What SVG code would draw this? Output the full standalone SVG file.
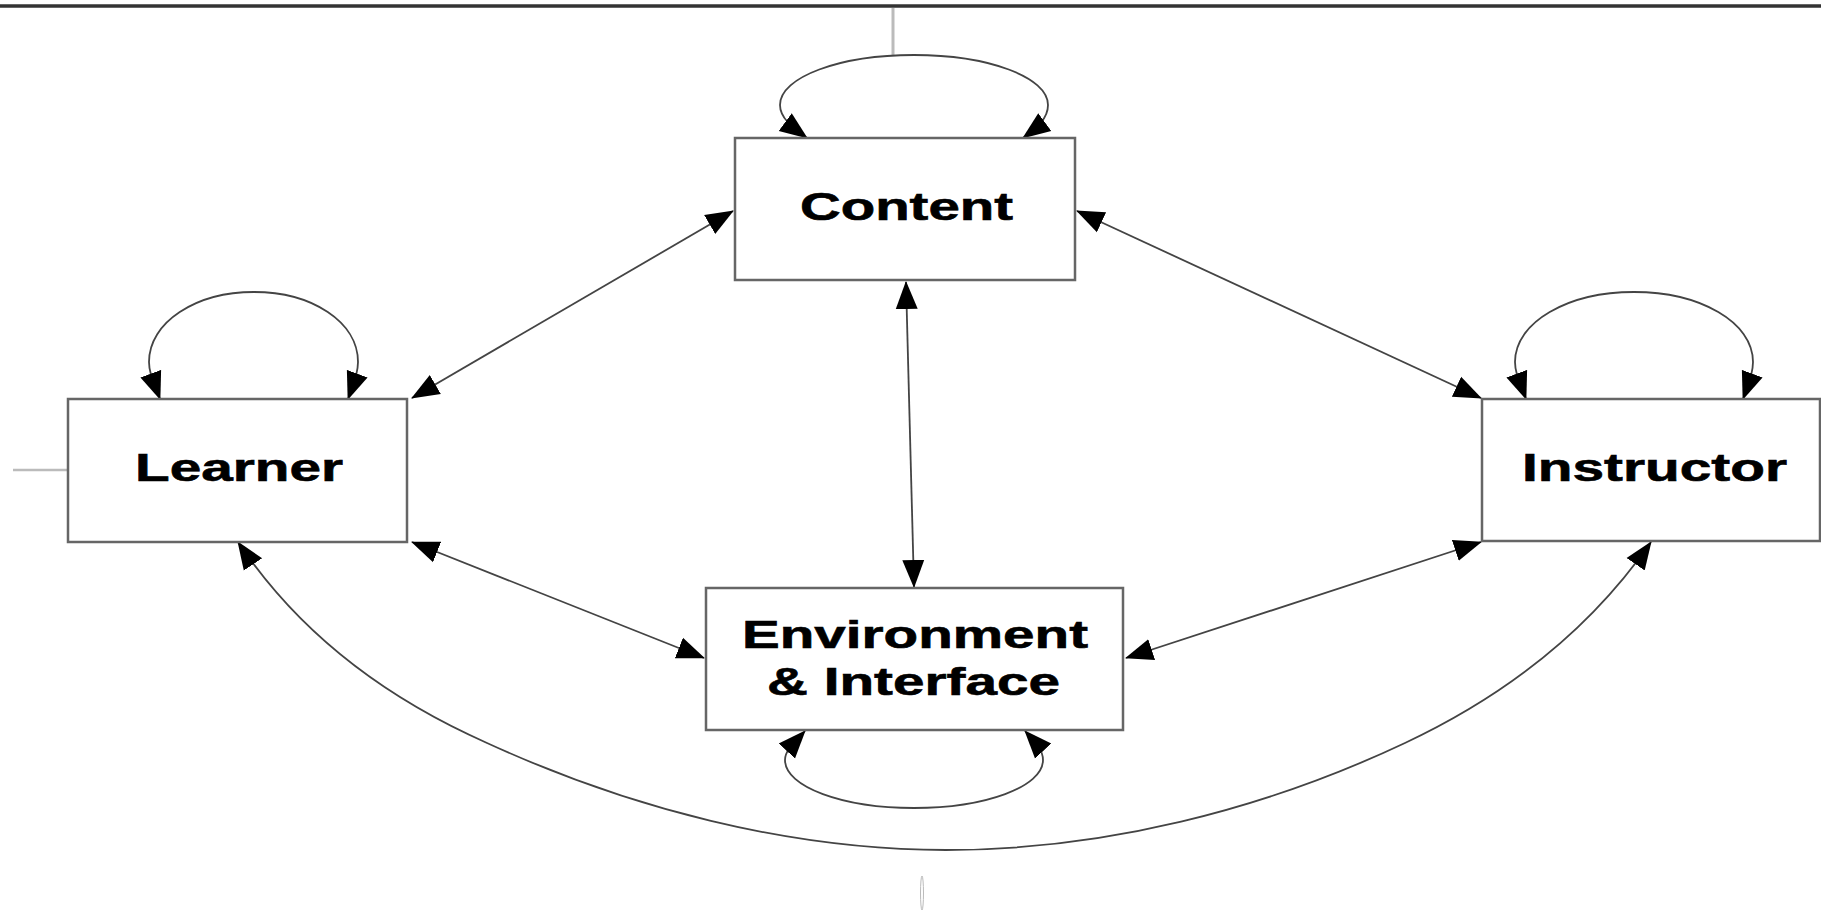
<svg xmlns="http://www.w3.org/2000/svg" width="1821" height="916" viewBox="0 0 1821 916">
<defs>
<style>
.box{fill:#fff;stroke:#666;stroke-width:2.5}
.lbl{font-family:"Liberation Sans",Arial,sans-serif;font-weight:bold;font-size:39px;fill:#000;stroke:#000;stroke-width:0.6}
.con{fill:none;stroke:#444;stroke-width:1.8;marker-start:url(#ah);marker-end:url(#ah)}
</style>
<marker id="ah" markerUnits="userSpaceOnUse" markerWidth="30" markerHeight="24" refX="27" refY="11" orient="auto-start-reverse" viewBox="0 0 30 22">
<path d="M0,0 L28,11 L0,22 Z" fill="#000"/>
</marker>
</defs>
<rect x="0" y="0" width="1821" height="916" fill="#fff"/>
<line x1="0" y1="6" x2="1821" y2="6" stroke="#333" stroke-width="3.5"/>
<line x1="893" y1="8" x2="893" y2="55" stroke="#bbb" stroke-width="3"/>
<line x1="13" y1="470" x2="68" y2="470" stroke="#bbb" stroke-width="2.5"/>
<ellipse cx="922" cy="893" rx="1.5" ry="17" fill="none" stroke="#bbb" stroke-width="1"/>
<g id="connectors">
<path class="con" d="M807,138 C792,127 780,118 780,105 C780,77 840,55 914,55 C988,55 1048,77 1048,105 C1048,118 1038,127 1023,138"/>
<path class="con" d="M160,399 C156,388 149,376 149,362 C149,322 196,292 254,292 C312,292 358,322 358,362 C358,376 352,388 348,399"/>
<path class="con" d="M1526,399 C1522,388 1515,376 1515,362 C1515,322 1568,292 1634,292 C1700,292 1753,322 1753,362 C1753,376 1747,388 1743,399"/>
<path class="con" d="M805,731 C795,742 785,750 785,760 C785,787 843,808 914,808 C985,808 1043,787 1043,760 C1043,750 1035,742 1025,731"/>
<path class="con" d="M238,542 C298,632 385,698 487,743 C629,808 789,850 946,850 C1103,850 1263,810 1405,743 C1505,696 1590,630 1651,542"/>
<path class="con" d="M733,211 L412,398"/>
<path class="con" d="M1077,211 L1481,398"/>
<path class="con" d="M906,282 L914,587"/>
<path class="con" d="M412,542 L704,658"/>
<path class="con" d="M1481,542 L1126,658"/>
</g>
<g id="content">
<rect class="box" x="735" y="138" width="340" height="142"/>
<text class="lbl" x="800" y="220" textLength="213" lengthAdjust="spacingAndGlyphs">Content</text>
</g>
<g id="learner">
<rect class="box" x="68" y="399" width="339" height="143"/>
<text class="lbl" x="135" y="481" textLength="208" lengthAdjust="spacingAndGlyphs">Learner</text>
</g>
<g id="instructor">
<rect class="box" x="1482" y="399" width="338" height="142"/>
<text class="lbl" x="1522" y="481" textLength="265" lengthAdjust="spacingAndGlyphs">Instructor</text>
</g>
<g id="environment">
<rect class="box" x="706" y="588" width="417" height="142"/>
<text class="lbl" x="742" y="648" textLength="346" lengthAdjust="spacingAndGlyphs">Environment</text>
<text class="lbl" x="767" y="695" textLength="293" lengthAdjust="spacingAndGlyphs">&amp; Interface</text>
</g>
</svg>
